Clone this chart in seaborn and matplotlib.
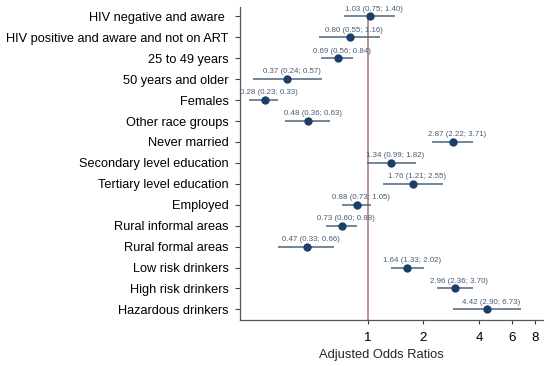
import numpy as np
import pandas as pd
import matplotlib
matplotlib.use("Agg")
import matplotlib.pyplot as plt
import seaborn as sns

# categories and estimates (adjusted odds ratios with 95% CI)
labels = ["HIV negative and aware ", "HIV positive and aware and not on ART",
          "25 to 49 years", "50 years and older", "Females", "Other race groups",
          "Never married", "Secondary level education", "Tertiary level education",
          "Employed", "Rural informal areas", "Rural formal areas",
          "Low risk drinkers", "High risk drinkers", "Hazardous drinkers"]
aor = [1.03, 0.80, 0.69, 0.37, 0.28, 0.48, 2.87, 1.34, 1.76, 0.88, 0.73, 0.47, 1.64, 2.96, 4.42]
lower = [0.75, 0.55, 0.56, 0.24, 0.23, 0.36, 2.22, 0.99, 1.21, 0.73, 0.60, 0.33, 1.33, 2.36, 2.90]
upper = [1.40, 1.16, 0.84, 0.57, 0.33, 0.63, 3.71, 1.82, 2.55, 1.05, 0.88, 0.66, 2.02, 3.70, 6.73]
xticks = [1, 2, 4, 6, 8]

df = pd.DataFrame({"label": labels, "aor": aor, "lo": lower, "hi": upper})
df["row"] = np.arange(len(df))

sns.set_theme(style="ticks")
plt.rcParams["font.family"] = ["Liberation Sans", "DejaVu Sans"]

fig = plt.figure(figsize=(5.5, 3.66), dpi=100)
ax = fig.add_axes([0.436, 0.126, 0.551, 0.855])

# reference line at OR = 1
ax.vlines(1, 0, len(df) - 0.5, color="#bc8f98", lw=1.4, zorder=1)

# confidence intervals
ax.hlines(df["row"], df["lo"], df["hi"], color="#4b6680", lw=1.1, zorder=2)
sns.scatterplot(data=df, x="aor", y="row", ax=ax, color="#1b3f66", s=36,
                edgecolor="#1b3f66", linewidth=0, zorder=3, legend=False)

for _, r in df.iterrows():
    ax.annotate(f"{r.aor:.2f} ({r.lo:.2f}; {r.hi:.2f})", (r.aor, r.row),
                xytext=(3, 5.2), textcoords="offset points", ha="center", va="center",
                fontsize=5.7, color="#4a5d75")

ax.set_xscale("log")
ax.set_xlim(0.205, 8.8)
ax.set_ylim(len(df) - 0.5, -0.45)
ax.set_xticks(xticks)
ax.set_xticklabels([str(t) for t in xticks])
ax.xaxis.set_minor_locator(matplotlib.ticker.NullLocator())
ax.set_yticks(df["row"])
ax.set_yticklabels(df["label"])

ax.tick_params(axis="y", length=3.6, width=0.8, pad=4.3, labelsize=9.2, colors="#444444", labelcolor="black")
ax.tick_params(axis="x", length=3, width=0.8, pad=5.5, labelsize=9.6, colors="#444444", labelcolor="black")
ax.set_xlabel("Adjusted Odds Ratios", fontsize=9.3)
ax.xaxis.set_label_coords(0.467, -0.094)
ax.set_ylabel("")
sns.despine(ax=ax)
for s in ["left", "bottom"]:
    ax.spines[s].set_color("#555555")
    ax.spines[s].set_linewidth(0.9)

fig.savefig("out.png", dpi=100)
